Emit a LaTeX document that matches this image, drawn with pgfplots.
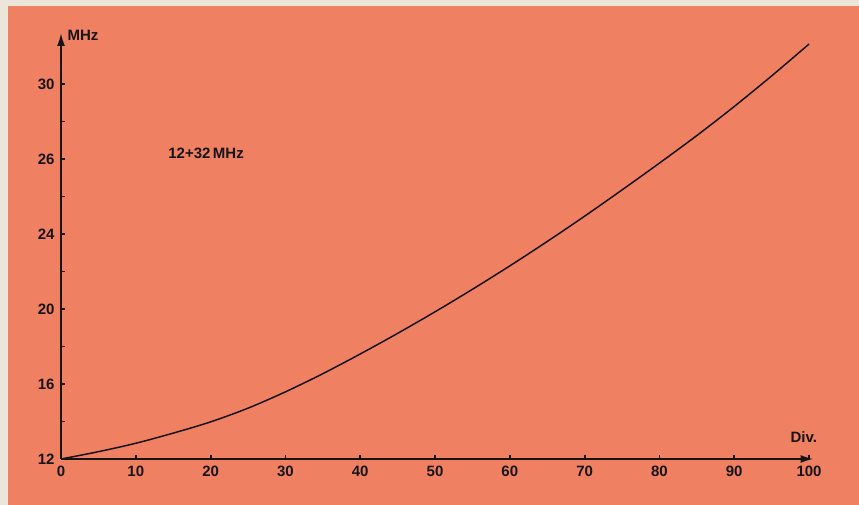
\documentclass[border=0pt]{standalone}
\usepackage{fontspec}
\setmainfont{Liberation Sans}
\usepackage{pgfplots}
\pgfplotsset{compat=1.18}
\usetikzlibrary{arrows.meta}
\definecolor{bgorange}{RGB}{240,128,98}
\definecolor{paper}{RGB}{236,230,218}
\definecolor{ink}{RGB}{25,20,20}
\begin{document}
\begin{tikzpicture}[x=1pt,y=1pt]
\path[use as bounding box] (0,0) rectangle (859,504);
\fill[bgorange] (-5,-5) rectangle (865,510);
\fill[paper] (-5,-5) rectangle (8,510);
\fill[paper] (-5,498) rectangle (865,510);
\begin{axis}[
  at={(61pt,45pt)}, anchor=south west,
  scale only axis, width=752.5pt, height=426pt,
  xmin=0, xmax=100.6, ymin=12, ymax=34.72,
  axis lines=left, clip=false,
  axis line style={line width=1.8pt, ink},
  x axis line style={-{Latex[length=13pt,width=8pt]}},
  y axis line style={-{Latex[length=13pt,width=8pt]}},
  xtick={0,10,...,100},
  xticklabels={0,10,20,30,40,50,60,70,80,90,100},
  ytick={12,16,20,24,28,32},
  yticklabels={12,16,20,24,26,30},
  minor ytick={14,18,22,26,30},
  tick align=inside,
  major tick length=4pt, minor tick length=4pt,
  tick style={line width=1.8pt, ink},
  ticklabel style={font=\bfseries\fontsize{15}{15}\selectfont, text=ink},
  xticklabel style={yshift=-3pt},
  yticklabel style={xshift=-3pt},
  /pgf/number format/assume math mode=true,
]
\addplot[line width=1.5pt, ink, smooth] coordinates {
(0,12) (5,12.39) (10,12.84) (15,13.38) (20,13.98) (25,14.71) (30,15.58)
(35,16.55) (40,17.6) (45,18.7) (50,19.85) (55,21.05) (60,22.3) (65,23.6)
(70,24.95) (75,26.35) (80,27.78) (85,29.25) (90,30.8) (95,32.43) (100,34.13)};
\node[font=\bfseries\fontsize{15}{15}\selectfont, text=ink] at (axis cs:99.3,13.17) {Div.};
\node[font=\bfseries\fontsize{15}{15}\selectfont, text=ink] at (axis cs:2.94,34.61) {MHz};
\node[font=\bfseries\fontsize{15}{15}\selectfont, text=ink] at (axis cs:19.4,28.32) {12+32\,MHz};
\end{axis}
\end{tikzpicture}
\end{document}
